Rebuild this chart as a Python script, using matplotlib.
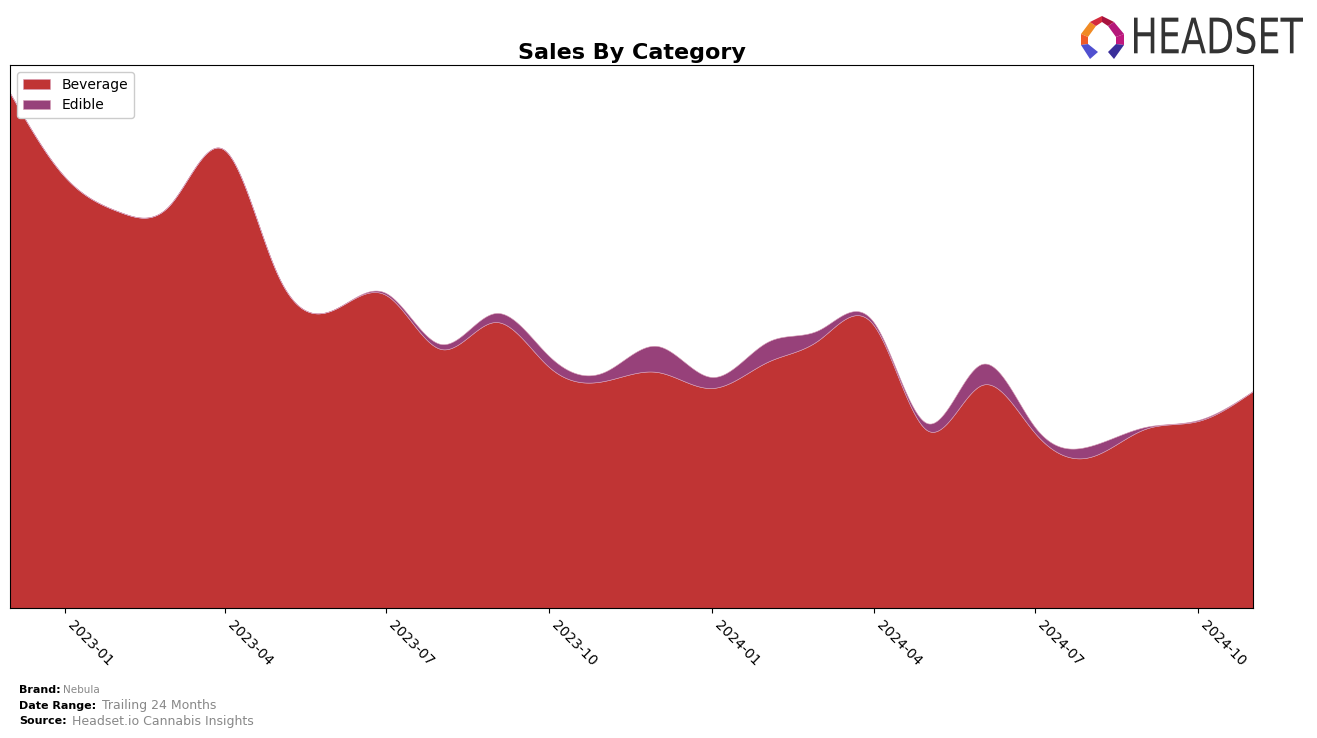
import numpy as np
import pandas as pd
import matplotlib
matplotlib.use("Agg")
import matplotlib.pyplot as plt
import matplotlib.dates as mdates
from matplotlib.path import Path
from matplotlib.textpath import TextPath
from matplotlib.patches import PathPatch, Polygon
from matplotlib.font_manager import FontProperties

# monthly sales (relative units)
months = pd.date_range("2022-12-01", periods=24, freq="MS")
beverage = [515, 431, 396, 403, 458, 333, 298, 313, 259, 286, 241, 227,
            236, 220, 246, 268, 283, 178, 223, 175, 151, 179, 187, 217]
edible = [0, 0, 0, 0, 0, 0, 0, 2, 5, 9, 11, 9,
          26, 11, 20, 10, 3, 7, 21, 6, 11, 2, 1, 0]

categories = ["Beverage", "Edible"]
colors = ["#C03434", "#97417A"]


# natural cubic spline, only used to draw the smooth outline
def smooth(x, y, num=800):
    x = np.asarray(x, float)
    y = np.asarray(y, float)
    n = len(x)
    h = np.diff(x)
    A = np.zeros((n, n))
    r = np.zeros(n)
    A[0, 0] = 1
    A[-1, -1] = 1
    for i in range(1, n - 1):
        A[i, i - 1] = h[i - 1]
        A[i, i] = 2 * (h[i - 1] + h[i])
        A[i, i + 1] = h[i]
        r[i] = 6 * ((y[i + 1] - y[i]) / h[i] - (y[i] - y[i - 1]) / h[i - 1])
    M = np.linalg.solve(A, r)
    xs = np.linspace(x[0], x[-1], num)
    k = np.clip(np.searchsorted(x, xs) - 1, 0, n - 2)
    t0 = x[k + 1] - xs
    t1 = xs - x[k]
    hk = h[k]
    ys = (M[k] * t0 ** 3 + M[k + 1] * t1 ** 3) / (6 * hk) \
        + (y[k] / hk - M[k] * hk / 6) * t0 + (y[k + 1] / hk - M[k + 1] * hk / 6) * t1
    return xs, ys


xnum = mdates.date2num(months)
xs, bev_s = smooth(xnum, beverage)
_, edi_s = smooth(xnum, edible)
edi_s = np.clip(edi_s, 0, None)

fig = plt.figure(figsize=(13.17, 7.38), dpi=100)
ax = fig.add_axes([10 / 1317, 1 - 608 / 738, 1243 / 1317, 543 / 738])

ax.stackplot(mdates.num2date(xs), bev_s, edi_s, labels=categories, colors=colors,
             edgecolor="#d8a0b8", linewidth=0.4)
ax.set_xlim(months[0], months[-1])
ax.set_ylim(0, 543)
ax.set_yticks([])
ax.xaxis.set_major_locator(mdates.MonthLocator(bymonth=[1, 4, 7, 10]))
ax.xaxis.set_major_formatter(mdates.DateFormatter("%Y-%m"))
plt.setp(ax.get_xticklabels(), rotation=-45, ha="left", fontsize=10)
ax.set_title("Sales By Category", fontsize=16, fontweight="bold", pad=4)
ax.legend(loc="upper left", fontsize=10, framealpha=1)

# footer
fig.text(19 / 1317, 1 - 690 / 738, "Brand:", fontsize=8, fontweight="bold", va="center")
fig.text(63 / 1317, 1 - 690 / 738, "Nebula", fontsize=7.5, color="#888888", va="center")
fig.text(19 / 1317, 1 - 706 / 738, "Date Range:", fontsize=8, fontweight="bold", va="center")
fig.text(102 / 1317, 1 - 706 / 738, "Trailing 24 Months", fontsize=9, color="#888888", va="center")
fig.text(19 / 1317, 1 - 721 / 738, "Source:", fontsize=8, fontweight="bold", va="center")
fig.text(72 / 1317, 1 - 721 / 738, "Headset.io Cannabis Insights", fontsize=9, color="#888888", va="center")

# logo
lax = fig.add_axes([1078 / 1317, 1 - 62 / 738, 228 / 1317, 50 / 738])
lax.set_xlim(0, 228)
lax.set_ylim(0, 50)
lax.axis("off")
icon = [
    ([(3, 28), (12, 40), (18, 36), (10, 25)], "#F08A24"),
    ([(12, 40), (24, 46), (24, 40), (18, 36)], "#D42A3C"),
    ([(24, 46), (36, 40), (30, 36), (24, 40)], "#A8123E"),
    ([(36, 40), (46, 28), (38, 25), (30, 36)], "#B5177A"),
    ([(3, 28), (10, 25), (10, 18), (3, 17)], "#F05A28"),
    ([(46, 28), (38, 25), (38, 18), (46, 17)], "#C0187E"),
    ([(3, 17), (10, 18), (20, 10), (12, 3)], "#5050D0"),
    ([(46, 17), (38, 18), (30, 10), (36, 3)], "#3A2E9A"),
]
for pts, c in icon:
    lax.add_patch(Polygon(pts, closed=True, color=c, lw=0))
tp = TextPath((0, 0), "HEADSET", size=10, prop=FontProperties(family="DejaVu Sans"))
ext = tp.get_extents()
verts = tp.vertices.copy()
verts[:, 0] = 56 + (verts[:, 0] - ext.x0) / ext.width * 169
verts[:, 1] = 8 + (verts[:, 1] - ext.y0) / ext.height * 37
lax.add_patch(PathPatch(Path(verts, tp.codes), color="#333333", lw=0))

fig.savefig("out.png", dpi=100)
